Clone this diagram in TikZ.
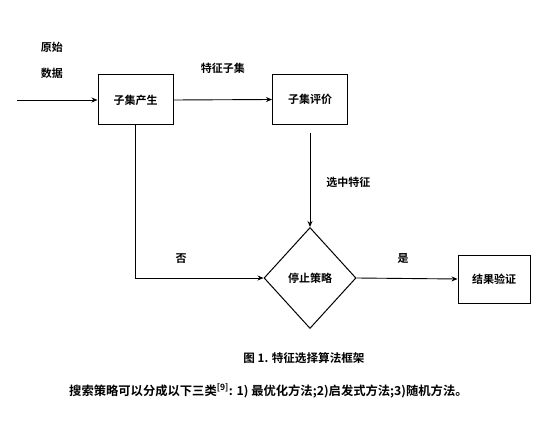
\documentclass[tikz,border=0pt]{standalone}
\usepackage{fontspec}
\setmainfont{Noto Sans CJK SC}[BoldFont={Noto Sans CJK SC Bold}]
\usetikzlibrary{shapes.geometric,arrows.meta}
\begin{document}
\begin{tikzpicture}[x=1pt,y=-1pt,
  every node/.style={font=\fontsize{11}{13}\selectfont\bfseries},
  box/.style={draw,line width=1pt,minimum width=75pt,minimum height=50pt,inner sep=0pt},
  dia/.style={draw,diamond,aspect=0.91,line width=1pt,minimum width=92pt,minimum height=101pt,inner sep=0pt},
  lbl/.style={inner sep=0pt},
  conn/.style={line width=0.9pt,-{Stealth[length=6pt,width=5pt]}}]
\useasboundingbox (0,0) rectangle (536,433);
\node[lbl] (yuan) at (52,47) {原始};
\node[lbl] (shu) at (52,73) {数据};
\coordinate (in) at (17,100);
\node[box] (gen) at (135.5,100) {子集产生};
\node[box] (eval) at (310,99.5) {子集评价};
\node[dia] (stop) at (310,278) {停止策略};
\node[box,minimum width=72pt,minimum height=48pt] (res) at (494,279) {结果验证};
\draw[conn] (in) -- (gen.west);
\draw[conn] (gen.east) -- node[lbl,above=26pt] {特征子集} (eval.west);
\draw[conn] (eval.south) ++(0,8) -- node[lbl,right=16pt,pos=0.52] {选中特征} (stop.north);
\draw[conn] (gen.south) |- (stop.west);
\node[lbl] (fou) at (181,259) {否};
\draw[conn] (stop.east) -- (res.west);
\node[lbl] (shi) at (403,259) {是};
\node[lbl,font=\fontsize{11.6}{14}\selectfont\bfseries] (cap) at (304,358) {图 1. 特征选择算法框架};
\node[lbl,anchor=west,font=\fontsize{12.3}{14}\selectfont\bfseries] (txt) at (69,391) {搜索策略可以分成以下三类\textsuperscript{[9]}: 1) 最优化方法;2)启发式方法;3)随机方法。};
\end{tikzpicture}
\end{document}
